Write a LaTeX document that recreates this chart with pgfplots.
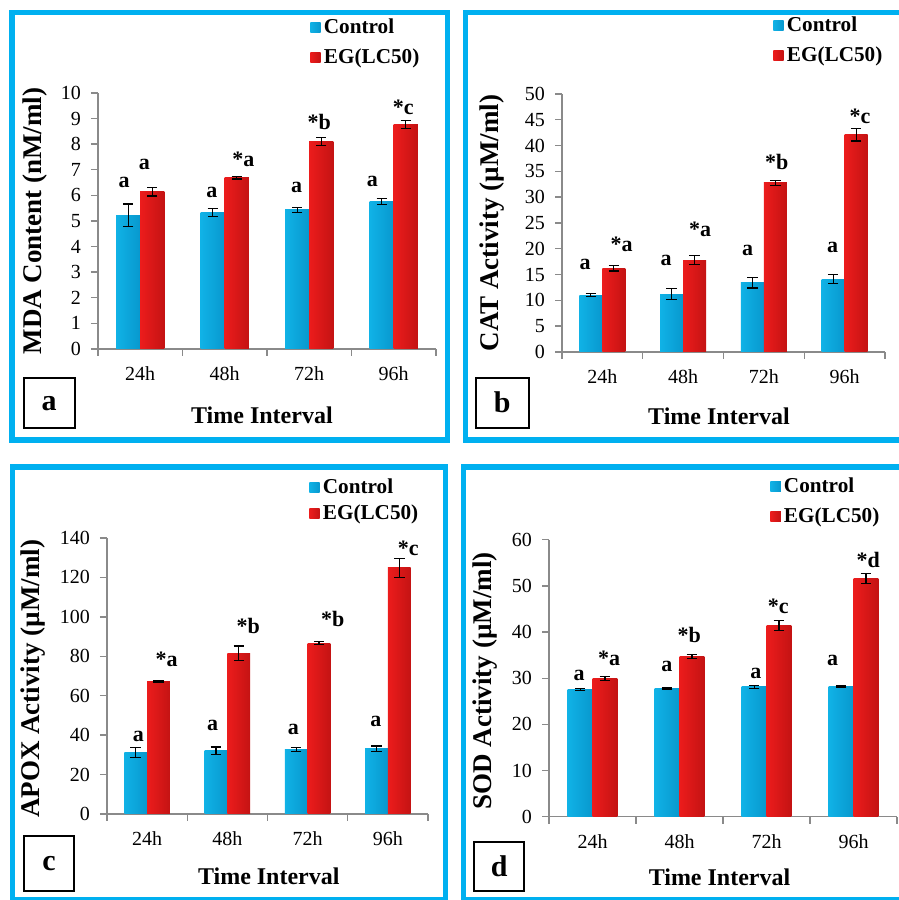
\documentclass[border=0pt]{standalone}
\usepackage{fontspec}
\setmainfont{Liberation Serif}
\usepackage{pgfplots}
\usepackage{pgfplotstable}
\pgfplotsset{compat=1.18}
\definecolor{frameblue}{HTML}{00B0F0}
\definecolor{axisgray}{HTML}{8A8A8A}
\definecolor{cL}{HTML}{10B2E6}
\definecolor{cM}{HTML}{22CCFA}
\definecolor{cR}{HTML}{0898CE}
\definecolor{rL}{HTML}{EC1C1C}
\definecolor{rM}{HTML}{FF3030}
\definecolor{rR}{HTML}{C41313}

\pgfplotstableread{
x c ce r re
1 5.23 0.43 6.15 0.17
2 5.33 0.17 6.69 0.05
3 5.43 0.10 8.11 0.15
4 5.75 0.12 8.77 0.15
}\tA
\pgfplotstableread{
x c ce r re
1 11.0 0.3 16.2 0.5
2 11.2 1.1 17.8 0.9
3 13.4 1.0 32.8 0.5
4 14.1 0.9 42.1 1.2
}\tB
\pgfplotstableread{
x c ce r re
1 31.1 2.6 67.0 0.5
2 32.0 2.0 81.6 3.6
3 32.7 1.2 86.7 0.8
4 33.0 1.5 124.8 5.0
}\tC
\pgfplotstableread{
x c ce r re
1 27.6 0.2 29.9 0.4
2 27.7 0.2 34.7 0.5
3 28.1 0.3 41.4 1.1
4 28.3 0.2 51.6 1.1
}\tD

\tikzset{
  lab/.style={font=\bfseries\fontsize{11}{13}\selectfont, inner sep=0pt, anchor=center},
  ctrlfill/.style={draw=none, left color=cL, middle color=cM, right color=cR},
  trtfill/.style={draw=none, left color=rL, middle color=rM, right color=rR},
}

\pgfplotsset{
  panel/.style={
    scale only axis, bar width=0.285,
    xmin=0.5, xmax=4.5, ymin=0,
    axis lines*=left,
    axis line style={draw=axisgray, line width=0.7pt},
    xtick={1,2,3,4}, xticklabels={24h,48h,72h,96h},
    minor xtick={0.5,1.5,2.5,3.5,4.5},
    major x tick style={draw=none},
    minor tick length=3.5pt, major tick length=3.5pt,
    tick style={draw=axisgray, line width=0.7pt},
    tick align=outside,
    /pgf/number format/assume math mode=true,
    tick label style={font=\fontsize{10}{12}\selectfont},
    xticklabel style={yshift=-2pt},
    yticklabel style={xshift=-1.5pt},
    xlabel={Time Interval},
    label style={font=\bfseries\fontsize{12}{14}\selectfont},
    ylabel style={font=\bfseries\fontsize{13.5}{15}\selectfont, anchor=center},
    xlabel style={anchor=center},
    legend style={draw=none, fill=none, anchor=north west, inner sep=0pt,
      font=\bfseries\fontsize{10.6}{12}\selectfont, row sep=3pt,
      nodes={inner sep=1.6pt}},
    legend cell align=left,
    legend image code/.code={\path[#1] (0pt,-2.6pt) rectangle (5.2pt,2.6pt);},
    clip=false,
  },
  ebar/.style={error bars/.cd, y dir=both, y explicit,
    error bar style={line width=0.6pt, black},
    error mark options={rotate=90, mark size=2.6pt, line width=0.6pt, black}},
  ctrl/.style={ybar, bar shift=0pt, ctrlfill, forget plot, ebar},
  trt/.style={ybar, bar shift=0pt, trtfill, forget plot, ebar},
}

% one plot per bar so that each bar gets its own cylinder shading;
% control bars sit left of the category centre, treated bars right of it
\newcommand{\allbars}[1]{%
  \addplot[ctrl] table[x expr=\thisrow{x}-0.1425,y=c,y error=ce,restrict x to domain=0.5:1.5]{#1};
  \addplot[ctrl] table[x expr=\thisrow{x}-0.1425,y=c,y error=ce,restrict x to domain=1.5:2.5]{#1};
  \addplot[ctrl] table[x expr=\thisrow{x}-0.1425,y=c,y error=ce,restrict x to domain=2.5:3.5]{#1};
  \addplot[ctrl] table[x expr=\thisrow{x}-0.1425,y=c,y error=ce,restrict x to domain=3.5:4.5]{#1};
  \addplot[trt] table[x expr=\thisrow{x}+0.1425,y=r,y error=re,restrict x to domain=0.5:1.5]{#1};
  \addplot[trt] table[x expr=\thisrow{x}+0.1425,y=r,y error=re,restrict x to domain=1.5:2.5]{#1};
  \addplot[trt] table[x expr=\thisrow{x}+0.1425,y=r,y error=re,restrict x to domain=2.5:3.5]{#1};
  \addplot[trt] table[x expr=\thisrow{x}+0.1425,y=r,y error=re,restrict x to domain=3.5:4.5]{#1};
  \addlegendimage{ctrlfill}\addlegendentry{Control}
  \addlegendimage{trtfill}\addlegendentry{EG(LC50)}
}

\begin{document}
\begin{tikzpicture}
\begin{scope}[x=0.5pt,y=0.5pt]
\useasboundingbox (0,0) rectangle (899,900);
% frames
\draw[frameblue, line width=2.6pt] (12,887.5) rectangle (447.5,460);
\draw[frameblue, line width=2.6pt] (465.7,887.5) rectangle (910,460);
\draw[frameblue, line width=2.6pt] (12.5,433) rectangle (445.7,0.5);
\draw[frameblue, line width=2.6pt] (463.5,433) rectangle (910,0.5);
% panel letters
\node[draw, line width=1pt, minimum width=25.5pt, minimum height=25pt, inner sep=0pt,
  font=\bfseries\fontsize{15}{17}\selectfont] at (49,496.5) {a};
\node[draw, line width=1pt, minimum width=26.5pt, minimum height=25pt, inner sep=0pt,
  font=\bfseries\fontsize{15}{17}\selectfont] at (502.3,497.3) {b};
\node[draw, line width=1pt, minimum width=25pt, minimum height=27.5pt, inner sep=0pt,
  font=\bfseries\fontsize{15}{17}\selectfont] at (49,36.2) {c};
\node[draw, line width=1pt, minimum width=25pt, minimum height=24.5pt, inner sep=0pt,
  font=\bfseries\fontsize{15}{17}\selectfont] at (499.2,33.7) {d};
\end{scope}

% ---- panel a
\begin{axis}[panel, anchor=south west, at={(49pt,275.5pt)}, width=169pt, height=128pt,
  ymax=10, ytick={0,1,...,10},
  ylabel={MDA Content (nM/ml)},
  ylabel style={at={(axis description cs:-0.186,0.5)}},
  xlabel style={at={(axis description cs:0.485,-0.258)}},
  legend style={at={(0.627,1.305)}}]
\allbars{\tA}
\node[lab] at (axis cs:0.808,6.52) {a};
\node[lab] at (axis cs:1.048,7.21) {a};
\node[lab] at (axis cs:1.849,6.11) {a};
\node[lab] at (axis cs:2.22,7.41) {*a};
\node[lab] at (axis cs:2.851,6.31) {a};
\node[lab] at (axis cs:3.119,8.88) {*b};
\node[lab] at (axis cs:3.746,6.56) {a};
\node[lab] at (axis cs:4.113,9.44) {*c};
\end{axis}

% ---- panel b
\begin{axis}[panel, anchor=south west, at={(281pt,274pt)}, width=161.5pt, height=129pt,
  ymax=50, ytick={0,5,...,50},
  ylabel={CAT Activity (µM/ml)},
  ylabel style={at={(axis description cs:-0.218,0.5)}},
  xlabel style={at={(axis description cs:0.486,-0.251)}},
  legend style={at={(0.653,1.314)}}]
\allbars{\tB}
\node[lab] at (axis cs:0.785,17.0) {a};
\node[lab] at (axis cs:1.239,20.9) {*a};
\node[lab] at (axis cs:1.788,17.8) {a};
\node[lab] at (axis cs:2.209,23.8) {*a};
\node[lab] at (axis cs:2.8,19.6) {a};
\node[lab] at (axis cs:3.159,36.8) {*b};
\node[lab] at (axis cs:3.852,20.2) {a};
\node[lab] at (axis cs:4.19,45.6) {*c};
\end{axis}

% ---- panel c
\begin{axis}[panel, anchor=south west, at={(53.5pt,43pt)}, width=160.5pt, height=138pt,
  ymax=140, ytick={0,20,...,140},
  ylabel={APOX Activity (µM/ml)},
  ylabel style={at={(axis description cs:-0.23,0.49)}},
  xlabel style={at={(axis description cs:0.504,-0.227)}},
  legend style={at={(0.629,1.228)}, row sep=1pt}]
\allbars{\tC}
\node[lab] at (axis cs:0.89,39.3) {a};
\node[lab] at (axis cs:1.244,78.2) {*a};
\node[lab] at (axis cs:1.817,44.9) {a};
\node[lab] at (axis cs:2.261,95.6) {*b};
\node[lab] at (axis cs:2.822,42.7) {a};
\node[lab] at (axis cs:3.312,98.9) {*b};
\node[lab] at (axis cs:3.852,46.9) {a};
\node[lab] at (axis cs:4.255,134.9) {*c};
\end{axis}

% ---- panel d
\begin{axis}[panel, anchor=south west, at={(274.5pt,41.65pt)}, width=174pt, height=138.5pt,
  ymax=60, ytick={0,10,...,60},
  ylabel={SOD Activity (µM/ml)},
  ylabel style={at={(axis description cs:-0.184,0.49)}},
  xlabel style={at={(axis description cs:0.49,-0.22)}},
  legend style={at={(0.635,1.237)}}]
\allbars{\tD}
\node[lab] at (axis cs:0.845,30.5) {a};
\node[lab] at (axis cs:1.19,34.4) {*a};
\node[lab] at (axis cs:1.856,32.5) {a};
\node[lab] at (axis cs:2.113,39.3) {*b};
\node[lab] at (axis cs:2.879,31.0) {a};
\node[lab] at (axis cs:3.136,45.6) {*c};
\node[lab] at (axis cs:3.761,33.8) {a};
\node[lab] at (axis cs:4.17,55.7) {*d};
\end{axis}
\end{tikzpicture}
\end{document}
